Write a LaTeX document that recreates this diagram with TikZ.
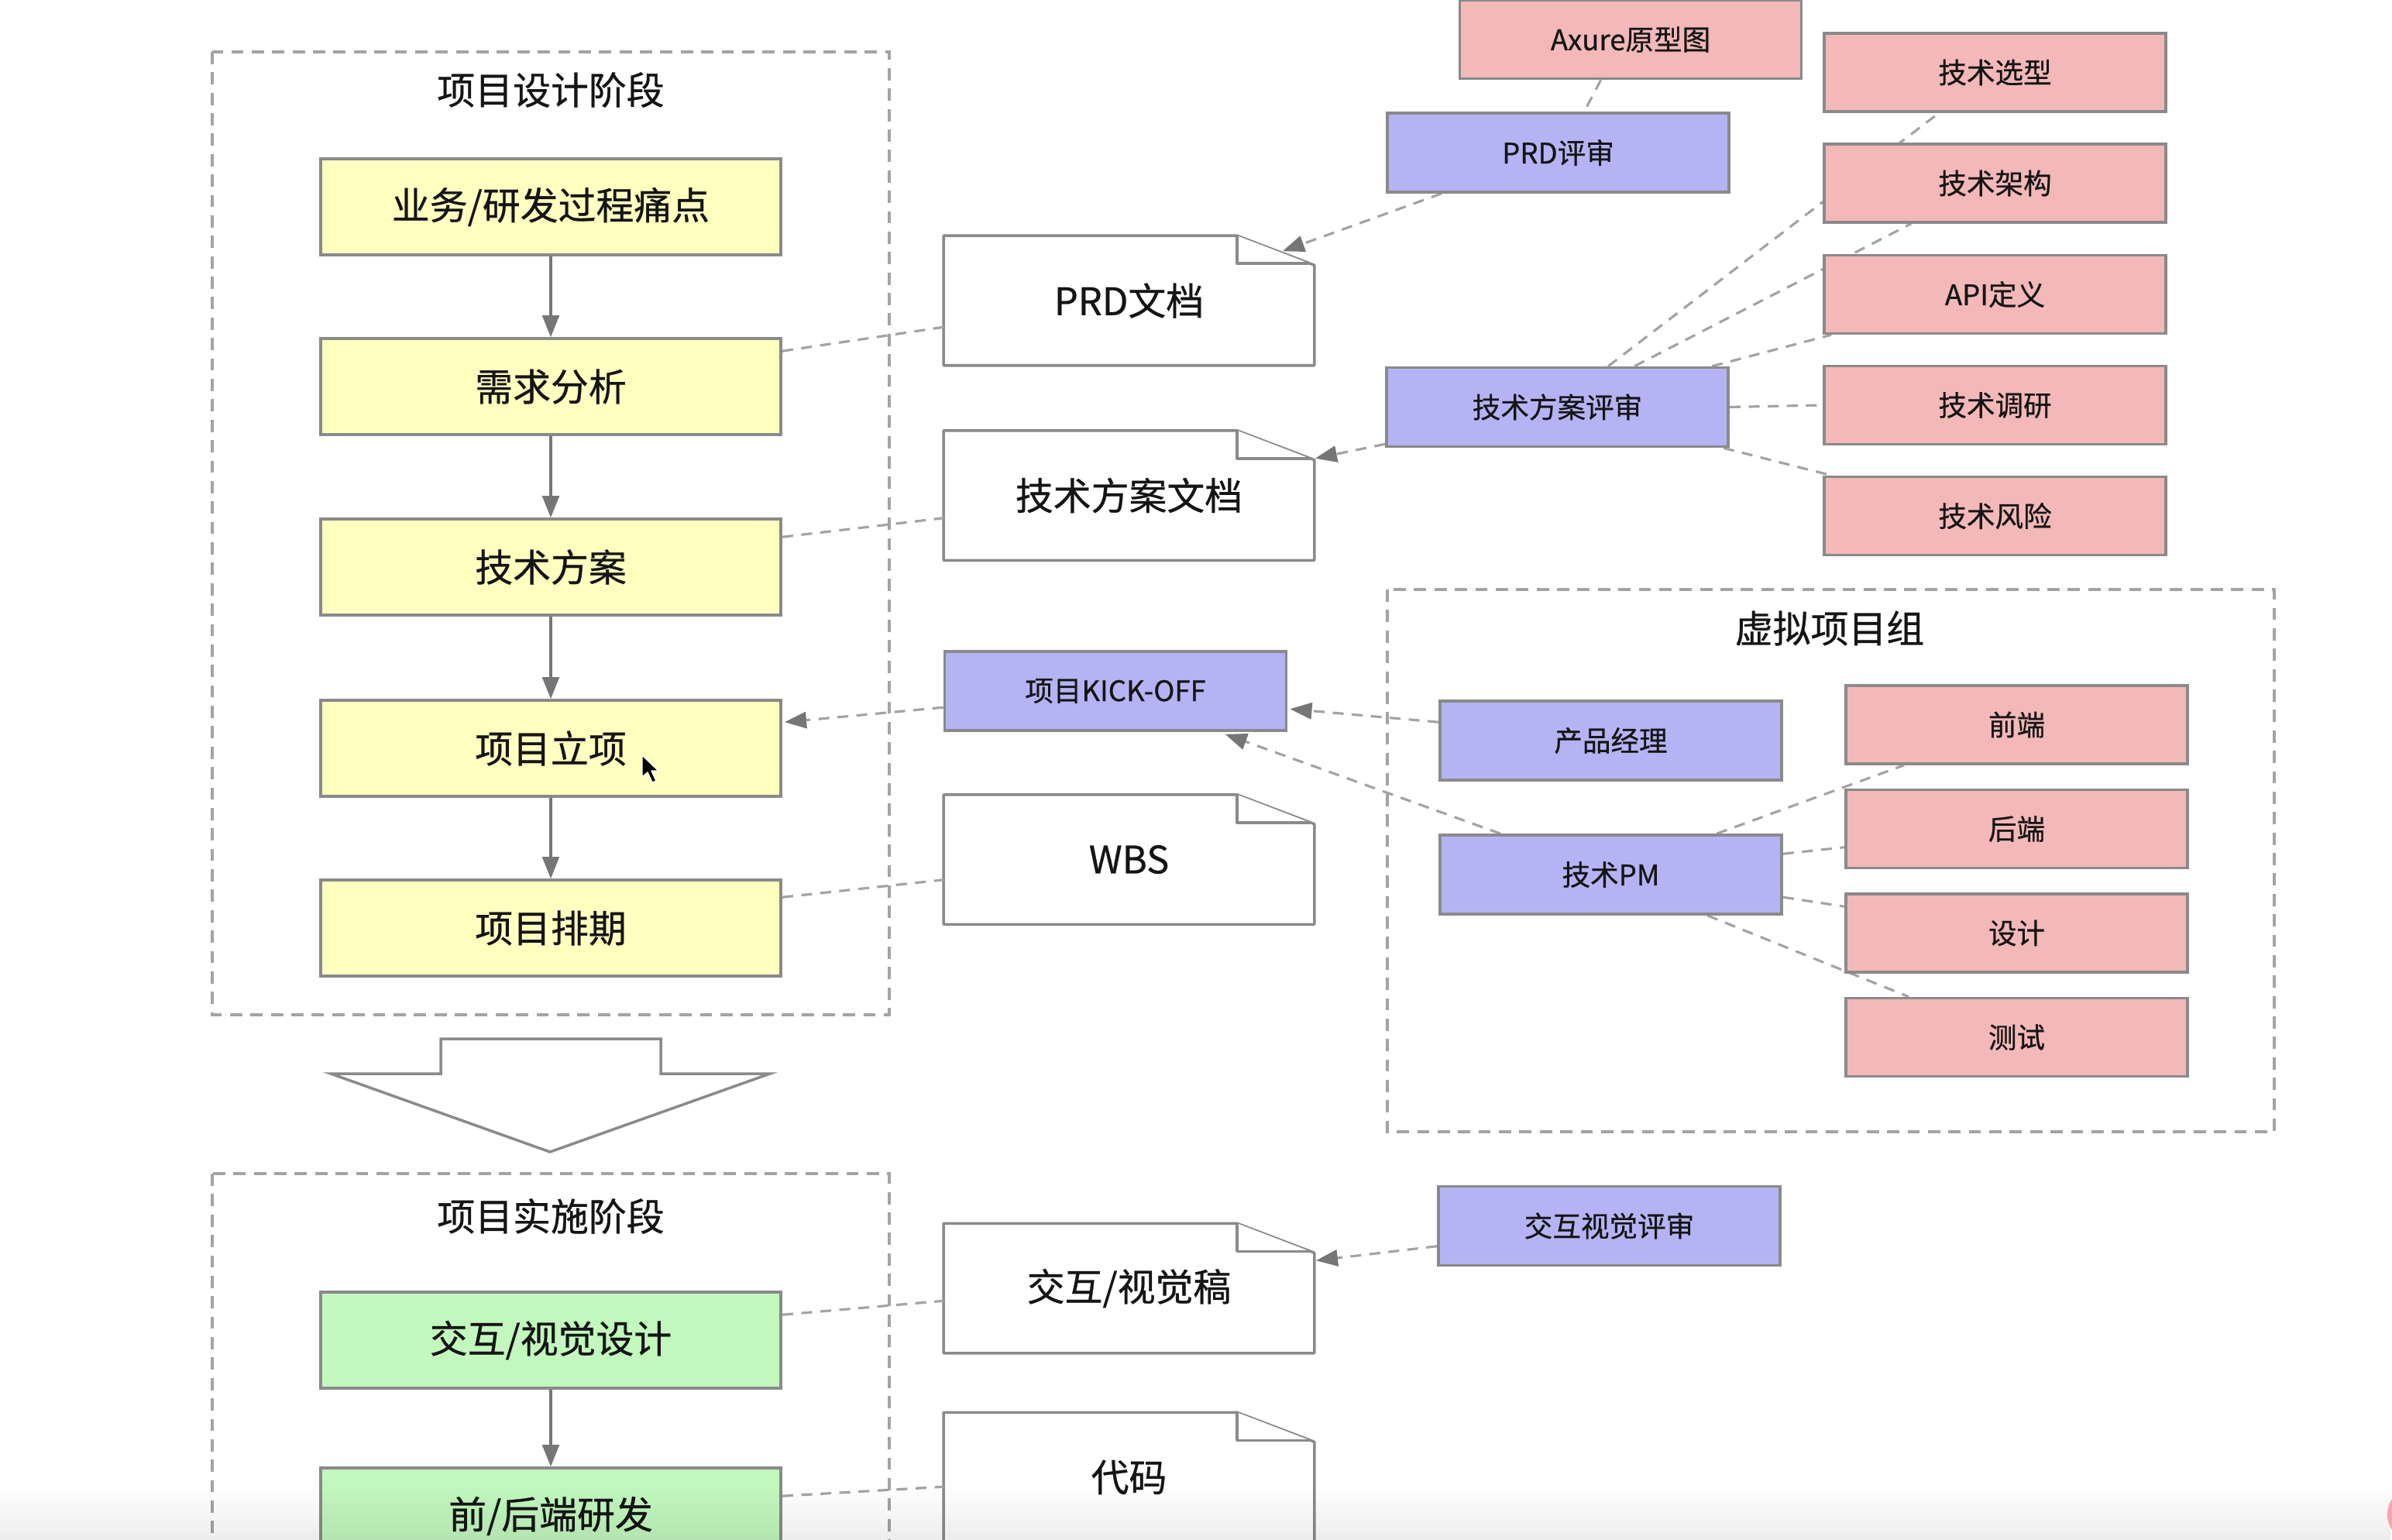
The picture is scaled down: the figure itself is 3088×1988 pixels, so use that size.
\documentclass[tikz,border=0pt]{standalone}
\usepackage{fontspec}
\setmainfont{Noto Sans CJK SC}[FakeBold=0.6]
\usetikzlibrary{arrows.meta,calc,fadings}
\pgfdeclarelayer{back}\pgfdeclarelayer{docs}\pgfdeclarelayer{edges}
\pgfsetlayers{back,docs,edges,main}
\definecolor{yfill}{HTML}{FFFFC0}
\definecolor{gfill}{HTML}{C2F7BE}
\definecolor{bfill}{HTML}{B4B4F4}
\definecolor{rfill}{HTML}{F3B8B8}
\definecolor{bord}{HTML}{8A8A8A}
\definecolor{dline}{HTML}{A3A3A3}
\definecolor{arr}{HTML}{767676}
\definecolor{txt}{HTML}{151515}
\newcommand\bigf{\fontsize{13.9}{16}\selectfont}
\newcommand\smf{\fontsize{10.4}{12}\selectfont}
\newcommand\docoutline[1]{%
  \filldraw[docline] (#1.north west) -- ($(#1.north east)+(-100,0)$) -- ($(#1.north east)+(0,38)$) -- (#1.south east) -- (#1.south west) -- cycle;
  \draw[docline] ($(#1.north east)+(-100,0)$) -- ($(#1.north east)+(-100,36)$) -- ($(#1.north east)+(-6,36)$);
}
\tikzset{
  boxbase/.style={draw=bord, line width=1pt, inner sep=0pt, text=txt},
  ybox/.style={boxbase, fill=yfill, minimum width=5.94cm, minimum height=1.24cm, font=\bigf},
  gbox/.style={boxbase, fill=gfill, minimum width=5.94cm, minimum height=1.24cm, font=\bigf},
  bbox/.style={boxbase, fill=bfill, minimum width=4.41cm, minimum height=1.02cm, font=\smf},
  rbox/.style={boxbase, fill=rfill, minimum width=4.41cm, minimum height=1.01cm, font=\smf},
  docnode/.style={draw=none, inner sep=0pt, minimum width=4.77cm, minimum height=1.66cm, font=\bigf, text=txt},
  docline/.style={draw=bord, fill=white, line width=1pt, line join=round},
  grptitle/.style={inner sep=0pt, font=\bigf, text=txt},
  grp/.style={draw=dline, line width=0.9pt, dash pattern=on 4.5pt off 3pt},
  flow/.style={draw=arr, line width=0.9pt, -{Triangle[length=8pt,width=6.2pt,color=arr]}},
  conn/.style={draw=dline, line width=0.9pt, dash pattern=on 4pt off 3pt},
  conna/.style={conn, -{Triangle[length=8pt,width=6pt,color=arr]}},
}
\begin{document}
\begin{tikzpicture}[x=0.01cm,y=-0.01cm]
\useasboundingbox (0,0) rectangle (3088,1988);

% group frames
\begin{pgfonlayer}{back}
\fill[white] (0,0) rectangle (3088,1988);
\draw[grp] (274,67) rectangle (1148,1310);
\draw[grp] (274,1515) rectangle (1148,2100);
\draw[grp] (1791,761) rectangle (2936,1461);
\end{pgfonlayer}

\node[grptitle] (t1) at (711,116) {项目设计阶段};
\node[grptitle] (t2) at (711,1570) {项目实施阶段};
\node[grptitle] (t3) at (2362,811) {虚拟项目组};

% process boxes
\node[ybox] (y1) at (711,267) {业务/研发过程痛点};
\node[ybox] (y2) at (711,499) {需求分析};
\node[ybox] (y3) at (711,732) {技术方案};
\node[ybox] (y4) at (711,966) {项目立项};
\node[ybox] (y5) at (711,1198) {项目排期};
\node[gbox] (g1) at (711,1730) {交互/视觉设计};
\node[gbox] (g2) at (711,1957) {前/后端研发};

% documents
\node[docnode] (d1) at (1457.5,388) {PRD文档};
\node[docnode] (d2) at (1457.5,639.5) {技术方案文档};
\node[docnode] (d3) at (1457.5,1109.5) {WBS};
\node[docnode] (d4) at (1457.5,1663) {交互/视觉稿};
\node[docnode] (d5) at (1457.5,1907) {代码};
\begin{pgfonlayer}{docs}
\docoutline{d1}\docoutline{d2}\docoutline{d3}\docoutline{d4}\docoutline{d5}
\end{pgfonlayer}

% blue boxes
\node[bbox] (prdr) at (2011.5,197) {PRD评审};
\node[bbox] (tsps) at (2010.5,525.5) {技术方案评审};
\node[bbox] (ko) at (1440,892) {项目KICK-OFF};
\node[bbox] (pm) at (2079.5,956) {产品经理};
\node[bbox] (tpm) at (2079.5,1129) {技术PM};
\node[bbox] (jhps) at (2077.5,1582.5) {交互视觉评审};

% red boxes
\node[rbox] (ax) at (2105,51) {Axure原型图};
\node[rbox] (xx) at (2575.5,93.5) {技术选型};
\node[rbox] (jg) at (2575.5,236.5) {技术架构};
\node[rbox] (api) at (2575.5,380) {API定义};
\node[rbox] (dy) at (2575.5,523) {技术调研};
\node[rbox] (fx) at (2575.5,666) {技术风险};
\node[rbox] (qd) at (2603.5,935.5) {前端};
\node[rbox] (hd) at (2603.5,1070) {后端};
\node[rbox] (sj) at (2603.5,1204.5) {设计};
\node[rbox] (cs) at (2603.5,1339) {测试};

% big transition arrow
\draw[draw=bord, fill=white, line width=1pt, line join=miter]
  (569,1341) -- (853,1341) -- (853,1386) -- (994,1386) -- (710,1487) -- (427,1386) -- (569,1386) -- cycle;

\begin{pgfonlayer}{edges}
% process flow
\draw[flow] (y1) -- (y2);
\draw[flow] (y2) -- (y3);
\draw[flow] (y3) -- (y4);
\draw[flow] (y4) -- (y5);
\draw[flow] (g1) -- (g2);
% process to documents
\draw[conn] ($(y2.north east)+(0,18)$) -- ($(d1.north west)+(0,118)$);
\draw[conn] ($(y3.north east)+(0,25)$) -- ($(d2.north west)+(0,113)$);
\draw[conna] ($(ko.north west)+(0,74)$) -- ($(y4.north east)+(3,30)$);
\draw[conn] ($(y5.north east)+(0,24)$) -- ($(d3.north west)+(0,110)$);
\draw[conn] ($(g1.north east)+(0,31)$) -- ($(d4.north west)+(0,100)$);
\draw[conn] ($(g2.north east)+(0,38)$) -- ($(d5.north west)+(0,96)$);
% reviews
\draw[conn] ($(ax.south west)+(184,0)$) -- ($(prdr.north west)+(256,0)$);
\draw[conna] ($(prdr.south west)+(72,0)$) -- ($(d1.north east)+(-41,20)$);
\draw[conna] ($(tsps.south west)+(0,-5)$) -- ($(d2.north east)+(1,36)$);
\draw[conn] ($(tsps.north west)+(288,0)$) -- ($(xx.south west)+(150,0)$);
\draw[conn] ($(tsps.north west)+(322,0)$) -- ($(jg.south west)+(114,0)$);
\draw[conn] ($(tsps.north west)+(422,0)$) -- ($(api.south west)+(11,0)$);
\draw[conn] (tsps.east) -- (dy.west);
\draw[conn] ($(tsps.south east)+(-8,0)$) -- ($(fx.north west)+(11,0)$);
% virtual team
\draw[conna] ($(pm.north west)+(0,29)$) -- ($(ko.north east)+(3,76)$);
\draw[conna] ($(tpm.north west)+(80,0)$) -- ($(ko.south west)+(364,3)$);
\draw[conn] ($(tpm.north west)+(359,0)$) -- ($(qd.south west)+(77,0)$);
\draw[conn] ($(tpm.north east)+(0,26)$) -- ($(hd.north west)+(0,76)$);
\draw[conn] ($(tpm.north east)+(0,82)$) -- ($(sj.north west)+(0,18)$);
\draw[conn] ($(tpm.south west)+(347,0)$) -- ($(cs.north west)+(83,0)$);
\draw[conna] ($(jhps.north west)+(0,79)$) -- ($(d4.north east)+(2,48)$);
\end{pgfonlayer}

% mouse pointer
\filldraw[fill=black, draw=white, line width=0.4pt, line join=round]
  (829,975) -- (829,1003) -- (836,997) -- (842,1010) -- (847,1008) -- (841,995) -- (850,995) -- cycle;

% screen artefacts at bottom
\fill[black, opacity=0.07, path fading=north] (0,1915) rectangle (3088,1988);
\fill[red!45!white, opacity=0.8] (3118,1955) circle[radius=0.36cm];
\end{tikzpicture}
\end{document}
